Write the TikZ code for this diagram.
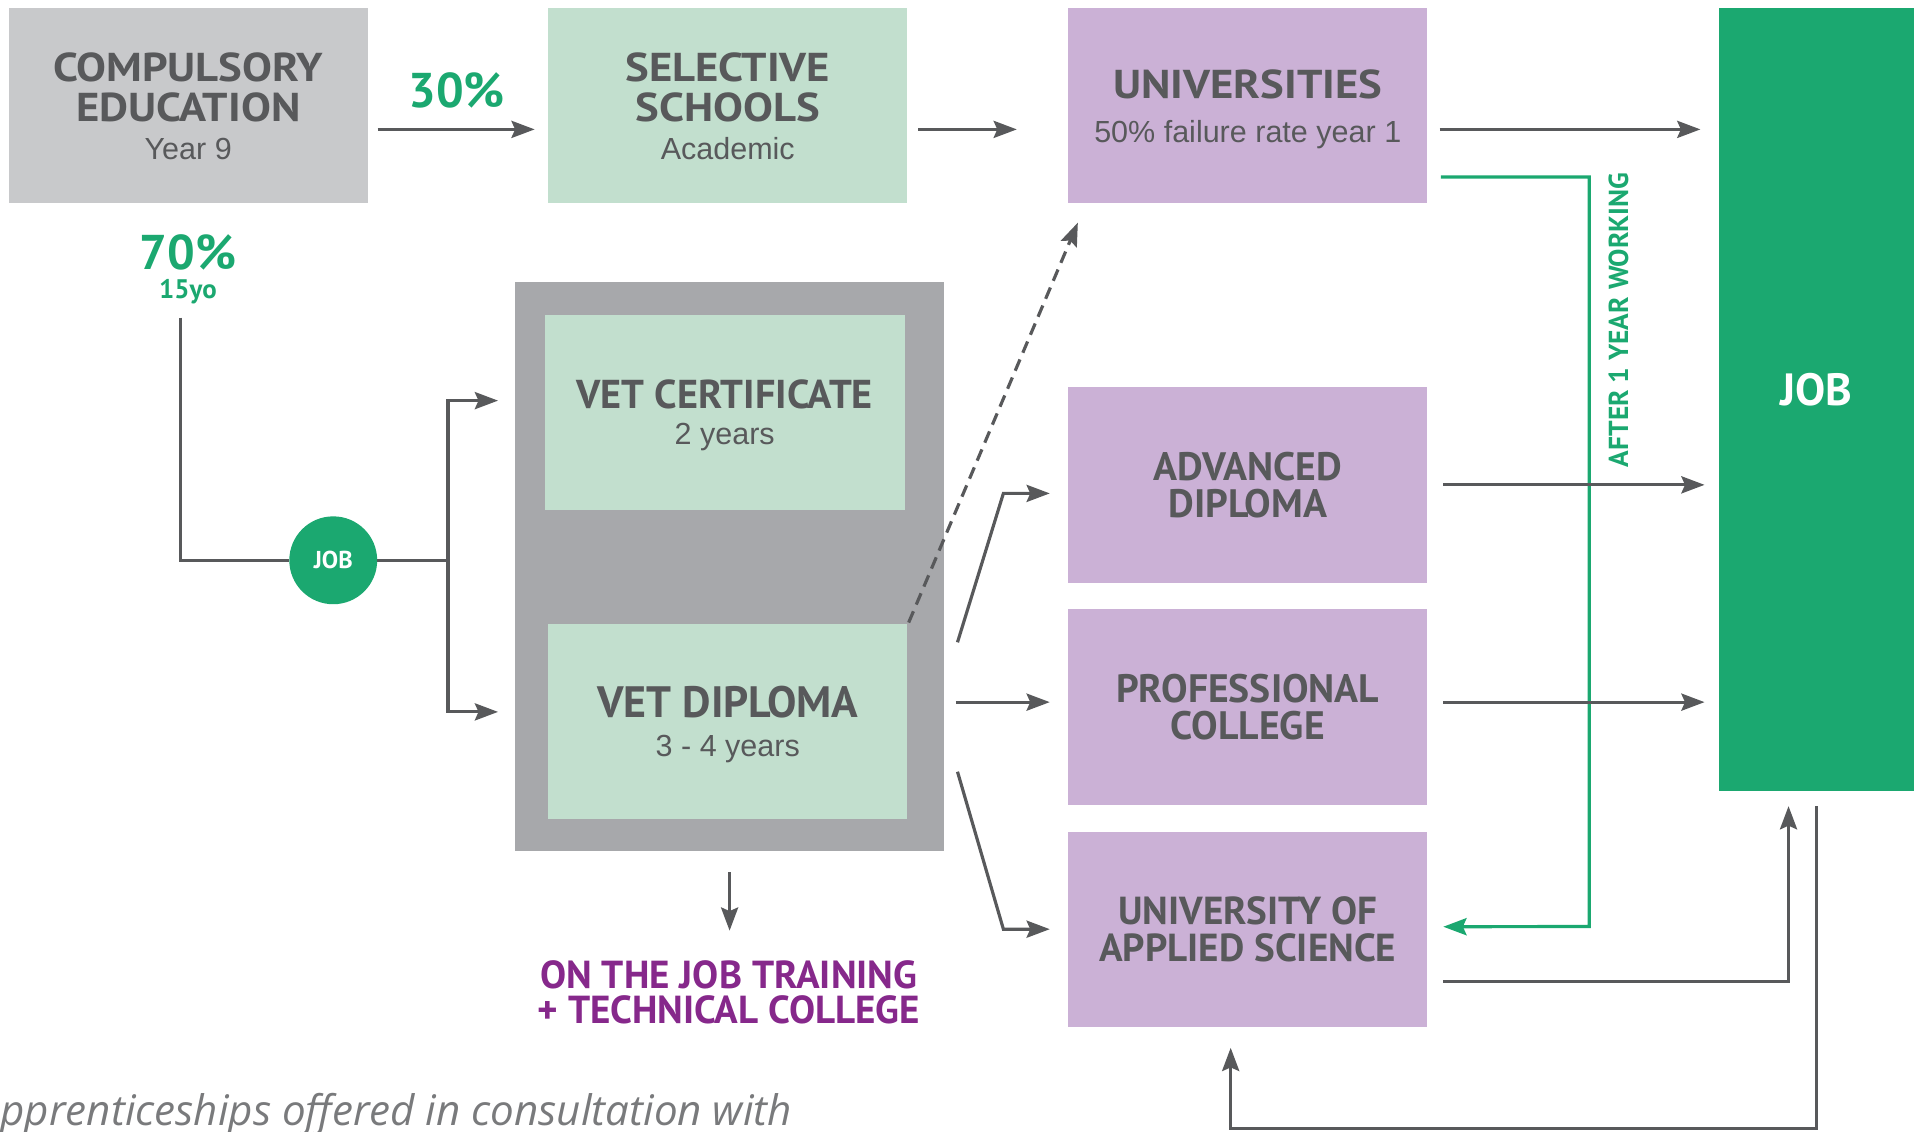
\documentclass[tikz,border=0pt]{standalone}
\usepackage{fontspec}
\setmainfont{PT Sans}
\newfontfamily\widefont{PT Sans}[FakeStretch=1.11]
\newfontfamily\subfont{Liberation Sans}
\newfontfamily\notefont{Open Sans}
\usetikzlibrary{arrows.meta,calc}

\definecolor{ink}{HTML}{58595B}
\definecolor{paleGray}{HTML}{C8C9CB}
\definecolor{midGray}{HTML}{A7A8AB}
\definecolor{mint}{HTML}{C2DFCE}
\definecolor{lilac}{HTML}{CBB1D6}
\definecolor{leaf}{HTML}{1BA870}
\definecolor{plum}{HTML}{86288B}

\newcommand\ttl[1]{{\bfseries #1}}
\newcommand\wttl[1]{{\widefont\bfseries #1}}
\newcommand\sbt[1]{{\subfont\fontsize{25}{28}\selectfont #1}}

\tikzset{
  box/.style={rectangle, inner sep=0pt, anchor=north west,
    minimum width=294pt, minimum height=160pt},
  boxtext/.style={align=center, text=ink, inner sep=0pt,
    font=\fontsize{33}{33}\selectfont},
  arr/.style={draw=ink, line width=2.6pt,
    -{Stealth[length=19pt,width=14pt,inset=3pt]}},
  plain/.style={draw=ink, line width=2.6pt},
  garr/.style={draw=leaf, line width=2.6pt,
    -{Stealth[length=19pt,width=14pt,inset=3pt]}},
  pct/.style={text=leaf, font=\fontsize{40}{40}\selectfont\bfseries, inner sep=0pt},
}

\begin{document}
\begin{tikzpicture}[x=1pt,y=-1pt]
  \useasboundingbox (0,0) rectangle (1568,927);
  \clip (0,0) rectangle (1568,927);

  % top row
  \node[box, fill=paleGray] (comp) at (7,6) {};
  \node[boxtext] (comptext) at ($(comp.center)+(0,1)$)
    {\wttl{COMPULSORY}\\\wttl{EDUCATION}\\[-2pt]\sbt{Year 9}};
  \node[box, fill=mint] (sel) at (449,6) {};
  \node[boxtext] (seltext) at ($(sel.center)+(0,1)$)
    {\wttl{SELECTIVE}\\\wttl{SCHOOLS}\\[-2pt]\sbt{Academic}};
  \node[box, fill=lilac] (uni) at (875,6) {};
  \node[boxtext] (unitext) at ($(uni.center)+(0,3)$)
    {\wttl{UNIVERSITIES}\\[3pt]\sbt{50\% failure rate year 1}};

  % job column
  \node[rectangle, inner sep=0pt, anchor=north west, fill=leaf,
        minimum width=160pt, minimum height=642pt] (job) at (1408,6) {};
  \node[text=white, font=\fontsize{37}{37}\selectfont\bfseries, inner sep=0pt]
    (joblabel) at (1488,319) {JOB};

  % vocational block
  \node[rectangle, inner sep=0pt, anchor=north west, fill=midGray,
        minimum width=351pt, minimum height=466pt] (vetwrap) at (422,231) {};
  \node[box, fill=mint, minimum width=295pt] (cert) at (446,258) {};
  \node[boxtext] (certtext) at ($(cert.center)+(0,2)$)
    {\ttl{VET CERTIFICATE}\\[-3pt]\sbt{2 years}};
  \node[box, fill=mint] (dip) at (449,511) {};
  \node[boxtext, font=\fontsize{36}{36}\selectfont] (diptext) at ($(dip.center)+(0,2)$)
    {\ttl{VET DIPLOMA}\\[-4pt]\sbt{3 - 4 years}};

  % tertiary options
  \node[box, fill=lilac] (adv) at (875,317) {};
  \node[boxtext, font=\fontsize{32.5}{30}\selectfont] (advtext) at (adv.center)
    {\ttl{ADVANCED}\\\ttl{DIPLOMA}};
  \node[box, fill=lilac] (prof) at (875,499) {};
  \node[boxtext, font=\fontsize{32.5}{30}\selectfont] (proftext) at (prof.center)
    {\ttl{PROFESSIONAL}\\\ttl{COLLEGE}};
  \node[box, fill=lilac] (uas) at (875,681) {};
  \node[boxtext, font=\fontsize{32}{30}\selectfont] (uastext) at (uas.center)
    {\ttl{UNIVERSITY OF}\\\ttl{APPLIED SCIENCE}};

  % percentages
  \node[pct] (p70) at (154,207) {70\%};
  \node[text=leaf, font=\fontsize{22}{22}\selectfont\bfseries, inner sep=0pt]
    (age) at (154,239) {15yo};
  \node[pct] (p30) at (374,74) {30\%};

  % job circle
  \node[circle, fill=leaf, minimum size=72pt, inner sep=0pt, text=white,
        font=\fontsize{20}{20}\selectfont\bfseries] (jobdot) at (273,459) {JOB};

  % top row arrows
  \draw[arr] ($(comp.north east)+(8,100)$) -- ($(sel.north west)+(-11,100)$);
  \draw[arr] ($(sel.north east)+(9,100)$) -- ($(uni.north west)+(-42,100)$);
  \draw[arr] ($(uni.north east)+(10,100)$) -- ($(job.north west)+(-15,100)$);

  % return path after a year of work
  \coordinate (gbend) at (1302,759);
  \draw[garr] ($(uni.north east)+(11,139)$) -| (gbend) -- ($(uas.east)+(13,-2)$);
  \node[rotate=90, text=leaf, font=\fontsize{22.5}{22}\selectfont\bfseries,
        inner sep=0pt] (afterlbl) at (1326,262) {AFTER 1 YEAR WORKING};

  % 70% path into vocational training
  \coordinate (fork) at (367,459);
  \draw[plain] ($(age.south)+(-6,11)$) |- (jobdot.west);
  \draw[plain] (jobdot.east) -- (fork);
  \draw[arr] (fork) |- ($(cert.west)+(-38,-10)$);
  \draw[arr] (fork) |- ($(dip.west)+(-41,-8)$);

  % from the diploma onwards
  \draw[arr, dashed, dash pattern=on 10pt off 6pt]
    ($(dip.north east)+(1,-1)$) -- ($(uni.south west)+(8,16)$);
  \draw[arr] ($(vetwrap.east)+(11,62)$) -- ($(adv.west)+(-53,7)$) -- ($(adv.west)+(-15,7)$);
  \draw[arr] ($(prof.west)+(-92,-4)$) -- ($(prof.west)+(-15,-4)$);
  \draw[arr] ($(vetwrap.east)+(11,168)$) -- ($(uas.west)+(-53,0)$) -- ($(uas.west)+(-15,0)$);

  % into the job market
  \draw[arr] ($(adv.east)+(13,0)$) -- ($(adv.east)+(227,0)$);
  \draw[arr] ($(prof.east)+(13,-4)$) -- ($(prof.east)+(227,-4)$);
  \draw[arr] ($(uas.east)+(13,43)$) -| ($(job.south)+(-23,12)$);
  \draw[arr] ($(job.south)+(0,12)$) -- ++(0,264) -| ($(uas.south)+(-14,17)$);

  % on the job training
  \draw[arr] ($(vetwrap.south)+(0,17)$) -- ($(vetwrap.south)+(0,65)$);
  \node[text=plum, align=center, inner sep=0pt,
        font=\fontsize{32}{29}\selectfont\bfseries] (otj) at (597,813)
    {ON THE JOB TRAINING\\+ TECHNICAL COLLEGE};

  % footnote
  \node[anchor=base east, inner sep=0pt, text=ink!80,
        font=\notefont\itshape\fontsize{34.5}{34}\selectfont] (note) at (649,922)
    {pprenticeships offered in consultation with};
\end{tikzpicture}
\end{document}
